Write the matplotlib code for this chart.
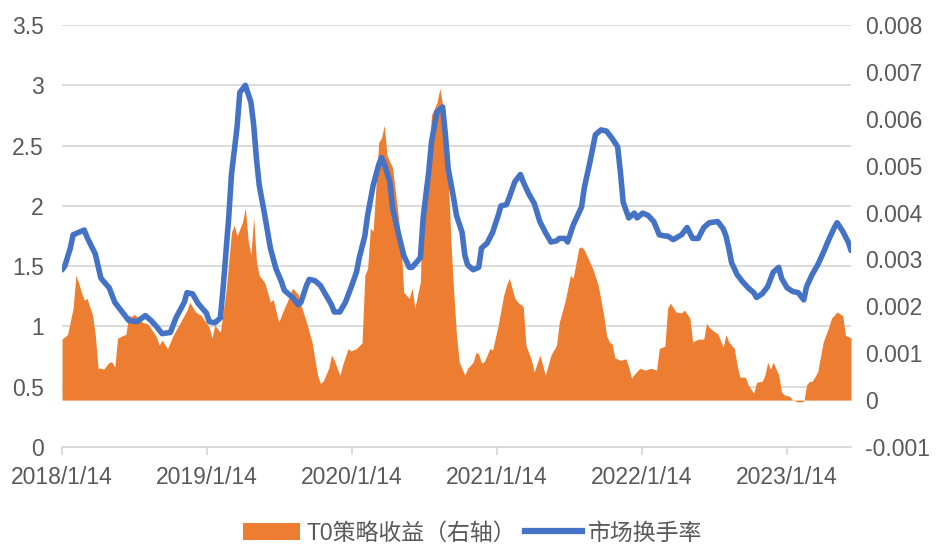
import matplotlib
matplotlib.use("Agg")
import matplotlib.pyplot as plt
from matplotlib.patches import Patch
from matplotlib.lines import Line2D
from matplotlib.ticker import FuncFormatter, MultipleLocator
import numpy as np
import pandas as pd

plt.rcParams['font.family'] = ['Liberation Sans', 'Noto Sans CJK SC', 'DejaVu Sans']

start_date = "2018-01-14"

# Market turnover rate (left axis): week index since 2018/1/14 and values
turnover_week = [0, 1, 3, 4, 6, 8, 9, 12, 14, 17, 19, 22, 24, 27, 30, 32, 34, 36, 39, 41,
                 44, 45, 47, 49, 52, 53, 55, 57, 58, 60, 61, 63, 64, 66, 68, 69, 70, 71, 73, 75,
                 77, 79, 80, 83, 85, 86, 88, 89, 91, 93, 95, 97, 98, 100, 102, 104, 106, 107, 109, 110,
                 112, 114, 115, 116, 118, 119, 121, 123, 125, 126, 129, 130, 132, 133, 135, 137, 138, 139, 141, 142,
                 144, 145, 146, 148, 150, 151, 153, 155, 157, 158, 160, 161, 163, 165, 166, 168, 170, 172, 174, 176,
                 178, 179, 181, 182, 184, 187, 188, 190, 192, 194, 196, 198, 200, 201, 202, 204, 206, 207, 209, 211,
                 213, 215, 217, 218, 220, 223, 225, 227, 229, 231, 233, 236, 238, 239, 240, 241, 243, 245, 247, 249,
                 250, 252, 254, 256, 258, 259, 261, 263, 265, 267, 268, 270, 272, 274, 276, 278, 279, 281, 283, 284]
turnover = [1.47, 1.50, 1.65, 1.76, 1.78, 1.80, 1.74, 1.60, 1.40, 1.32, 1.20, 1.11, 1.05, 1.04, 1.09, 1.05, 1.00, 0.94, 0.95, 1.07,
            1.20, 1.28, 1.27, 1.19, 1.11, 1.04, 1.03, 1.07, 1.32, 1.90, 2.26, 2.65, 2.94, 3.00, 2.86, 2.67, 2.39, 2.17, 1.92, 1.65,
            1.48, 1.37, 1.30, 1.24, 1.18, 1.20, 1.34, 1.39, 1.38, 1.34, 1.26, 1.18, 1.12, 1.12, 1.20, 1.32, 1.45, 1.57, 1.75, 1.92,
            2.17, 2.34, 2.40, 2.35, 2.20, 1.98, 1.78, 1.59, 1.49, 1.49, 1.57, 1.90, 2.28, 2.53, 2.78, 2.82, 2.59, 2.31, 2.06, 1.92,
            1.78, 1.59, 1.51, 1.47, 1.49, 1.65, 1.69, 1.78, 1.92, 2.00, 2.01, 2.07, 2.20, 2.26, 2.20, 2.10, 2.02, 1.87, 1.78, 1.70,
            1.71, 1.73, 1.73, 1.70, 1.84, 1.99, 2.15, 2.36, 2.59, 2.63, 2.62, 2.56, 2.49, 2.28, 2.03, 1.90, 1.94, 1.90, 1.94, 1.92,
            1.87, 1.76, 1.75, 1.75, 1.72, 1.76, 1.82, 1.73, 1.73, 1.82, 1.86, 1.87, 1.81, 1.75, 1.65, 1.53, 1.43, 1.37, 1.32, 1.28,
            1.24, 1.27, 1.33, 1.45, 1.49, 1.40, 1.32, 1.29, 1.28, 1.22, 1.33, 1.43, 1.51, 1.61, 1.72, 1.82, 1.86, 1.79, 1.70, 1.63]

# T0 strategy return (right axis), in units of 0.001
t0_week = [0, 1, 2, 4, 5, 6, 7, 8, 9, 11, 12, 13, 14, 15, 17, 18, 19, 20, 22, 23,
           24, 25, 26, 29, 31, 34, 35, 36, 38, 40, 43, 45, 46, 48, 50, 52, 53, 54, 55, 57,
           59, 60, 61, 62, 63, 65, 66, 67, 68, 69, 70, 71, 73, 75, 76, 78, 80, 81, 83, 85,
           86, 88, 90, 92, 93, 94, 96, 97, 98, 100, 101, 103, 104, 106, 108, 109, 110, 111, 112, 114,
           115, 116, 117, 119, 121, 122, 123, 125, 126, 127, 129, 130, 132, 133, 135, 136, 137, 139, 140, 141,
           142, 143, 145, 146, 148, 149, 150, 151, 152, 154, 155, 157, 159, 160, 161, 163, 164, 166, 167, 169,
           170, 172, 174, 176, 178, 179, 181, 183, 184, 186, 187, 188, 190, 191, 193, 195, 196, 197, 198, 199,
           201, 203, 204, 205, 206, 208, 210, 212, 214, 215, 217, 218, 219, 221, 223, 224, 226, 227, 229, 231,
           232, 233, 235, 236, 238, 239, 240, 242, 243, 244, 246, 247, 249, 250, 252, 253, 254, 255, 256, 258,
           259, 260, 262, 263, 265, 267, 268, 269, 270, 272, 274, 276, 277, 279, 281, 282, 284]
t0_permille = [1.30, 1.35, 1.40, 1.96, 2.66, 2.50, 2.30, 2.13, 2.17, 1.81, 1.38, 0.68, 0.68, 0.66, 0.81, 0.81, 0.70, 1.32, 1.38, 1.40,
               1.81, 1.78, 1.83, 1.66, 1.62, 1.35, 1.17, 1.28, 1.10, 1.38, 1.70, 1.92, 2.09, 1.88, 1.81, 1.64, 1.55, 1.32, 1.60, 1.45,
               2.30, 2.94, 3.58, 3.73, 3.50, 3.80, 4.10, 3.40, 3.10, 3.90, 2.94, 2.66, 2.50, 2.09, 2.15, 1.66, 1.96, 2.09, 2.39, 2.25,
               2.03, 1.66, 1.24, 0.53, 0.36, 0.40, 0.68, 0.96, 0.85, 0.53, 0.75, 1.10, 1.05, 1.10, 1.22, 2.66, 2.81, 3.67, 3.60, 5.50,
               5.59, 5.86, 5.22, 4.95, 3.94, 3.37, 2.30, 2.17, 2.39, 1.96, 2.52, 4.43, 5.16, 6.08, 6.35, 6.65, 6.30, 4.80, 3.37, 2.30,
               1.38, 0.81, 0.53, 0.68, 0.81, 1.02, 0.98, 0.79, 0.82, 1.10, 1.07, 1.60, 2.24, 2.45, 2.60, 2.17, 2.09, 2.00, 1.17, 0.85,
               0.60, 0.96, 0.53, 0.96, 1.17, 1.66, 2.09, 2.66, 2.60, 3.24, 3.27, 3.20, 2.94, 2.81, 2.45, 1.81, 1.38, 1.24, 1.20, 0.90,
               0.85, 0.88, 0.70, 0.47, 0.55, 0.68, 0.64, 0.68, 0.64, 1.10, 1.15, 1.96, 2.07, 1.88, 1.86, 1.92, 1.75, 1.24, 1.30, 1.30,
               1.64, 1.55, 1.45, 1.42, 1.13, 1.40, 1.24, 1.10, 0.75, 0.49, 0.49, 0.32, 0.15, 0.38, 0.40, 0.53, 0.81, 0.66, 0.81, 0.53,
               0.17, 0.11, 0.08, 0.00, -0.04, -0.03, 0.32, 0.40, 0.40, 0.60, 1.24, 1.56, 1.75, 1.88, 1.80, 1.38, 1.33]

year_ticks = ["2018-01-14", "2019-01-14", "2020-01-14", "2021-01-14", "2022-01-14", "2023-01-14"]
year_labels = ["2018/1/14", "2019/1/14", "2020/1/14", "2021/1/14", "2022/1/14", "2023/1/14"]

legend_labels = ["T0策略收益（右轴）", "市场换手率"]

t0_start = pd.Timestamp(start_date)
turnover_dates = t0_start + pd.to_timedelta(np.array(turnover_week) * 7, unit="D")
t0_dates = t0_start + pd.to_timedelta(np.array(t0_week) * 7, unit="D")
t0_return = np.array(t0_permille) * 1e-3

ORANGE = "#ED7D31"
BLUE = "#4472C4"
GRID = "#D9D9D9"
TXT = "#595959"
FS = 16.5

fig = plt.figure(figsize=(9.36, 5.45), dpi=100)
ax = fig.add_axes([62 / 936, 1 - 447 / 545, (851 - 62) / 936, (447 - 25) / 545])
ax2 = ax.twinx()
ax3 = ax.twinx()

# base axis: grid and left ticks
ax.set_ylim(0, 3.5)
ax.yaxis.set_major_locator(MultipleLocator(0.5))
ax.yaxis.set_major_formatter(FuncFormatter(lambda v, p: f"{v:g}"))
ax.grid(axis="y", color=GRID, linewidth=1.3)
ax.set_axisbelow(True)
for s in ["top", "right", "left"]:
    ax.spines[s].set_visible(False)
ax.spines["bottom"].set_color(GRID)
ax.spines["bottom"].set_linewidth(1.3)
ax.tick_params(axis="y", length=0, pad=13, labelsize=FS, labelcolor=TXT)
ax.tick_params(axis="x", length=6, width=1.3, color=GRID, pad=8, labelsize=FS, labelcolor=TXT)

xmin = t0_start
xmax = max(turnover_dates[-1], t0_dates[-1])
ax.set_xlim(xmin, xmax)
ax.set_xticks(pd.to_datetime(year_ticks))
ax.set_xticklabels(year_labels)

# right axis: orange area
ax2.fill_between(t0_dates, 0, t0_return, color=ORANGE, linewidth=0)
ax2.set_ylim(-0.001, 0.008)
ax2.yaxis.set_major_locator(MultipleLocator(0.001))
ax2.yaxis.set_major_formatter(FuncFormatter(lambda v, p: "0" if abs(v) < 1e-9 else f"{v:.3f}"))
for s in ax2.spines.values():
    s.set_visible(False)
ax2.tick_params(axis="y", length=0, pad=10, labelsize=FS, labelcolor=TXT)

# top axis: blue line on left scale
ax3.plot(turnover_dates, turnover, color=BLUE, linewidth=4.0, solid_joinstyle="round", solid_capstyle="round")
ax3.set_ylim(0, 3.5)
ax3.set_yticks([])
for s in ax3.spines.values():
    s.set_visible(False)
ax3.set_xlim(xmin, xmax)

handles = [Patch(facecolor=ORANGE, edgecolor="none"),
           Line2D([0], [0], color=BLUE, linewidth=4.5)]
fig.legend(handles, legend_labels, loc="center", bbox_to_anchor=(0.505, 0.022), ncol=2,
           frameon=False, fontsize=FS, handlelength=2.5, handleheight=0.75, columnspacing=0.4,
           handletextpad=0.25, labelcolor=TXT)

fig.savefig("out.png", dpi=100)
